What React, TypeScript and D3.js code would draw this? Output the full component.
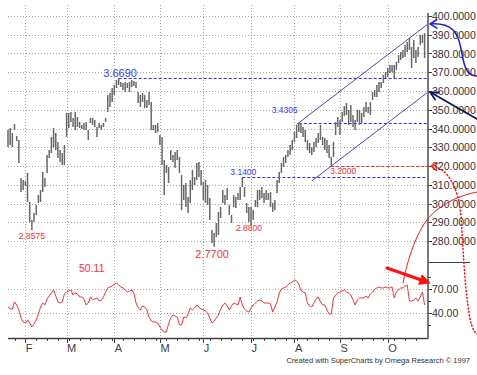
import React from 'react';
import * as d3 from 'd3';

const W = 477;
const H = 375;

// first bar of each month (bar index) and its letter
const monthStart = [8, 27, 49, 70, 90, 112, 132, 153, 175];
const monthLabel = ['F', 'M', 'A', 'M', 'J', 'J', 'A', 'S', 'O'];

// daily highs / lows, late Jan .. late Oct
const hi = [
  339.2, 340.3, 337.6, 342.4, 336.0, 333.9, 313.6, 312.5, 312.0, 316.3,
  300.8, 291.2, 294.9, 299.2, 304.5, 307.2, 316.8, 313.6, 325.9, 328.5,
  335.5, 340.3, 337.6, 332.8, 328.5, 326.9, 331.2, 348.3, 348.3, 348.8,
  345.6, 348.8, 346.1, 343.5, 341.9, 342.9, 343.5, 339.2, 345.6, 345.6,
  344.5, 340.8, 342.9, 341.9, 342.9, 345.6, 357.9, 358.9, 361.6, 363.2,
  365.9, 366.9, 364.8, 364.3, 364.8, 364.3, 364.8, 365.9, 365.4, 364.8,
  359.5, 357.9, 358.9, 357.9, 355.2, 359.5, 354.1, 341.9, 341.9, 342.9,
  336.5, 335.5, 323.2, 320.5, 319.5, 328.5, 325.9, 327.5, 328.5, 324.8,
  315.2, 309.9, 310.9, 303.5, 312.5, 317.9, 314.1, 321.6, 322.1, 317.9,
  311.5, 312.5, 309.9, 302.9, 285.9, 284.3, 289.6, 295.5, 298.1, 307.2,
  304.5, 308.3, 299.2, 293.9, 304.5, 303.5, 305.6, 308.8, 314.0, 308.8,
  300.3, 298.1, 298.1, 296.5, 301.9, 307.2, 307.2, 308.8, 305.6, 307.2,
  305.6, 306.1, 300.3, 301.9, 312.5, 316.8, 321.6, 324.8, 325.9, 328.5,
  331.2, 333.9, 338.1, 341.9, 343.05, 342.9, 340.8, 339.2, 333.9, 332.3,
  330.1, 332.8, 334.9, 337.6, 341.9, 335.5, 334.9, 333.9, 331.2, 324.8,
  332.8, 343.5, 346.1, 344.5, 348.8, 352.0, 353.6, 349.9, 352.5, 347.2,
  344.5, 349.9, 349.9, 348.3, 351.5, 354.1, 351.5, 354.1, 359.5, 360.5,
  363.2, 364.8, 364.8, 368.5, 370.1, 372.3, 373.9, 373.9, 373.9, 375.5,
  379.2, 380.8, 381.9, 384.5, 386.1, 388.3, 383.5, 387.2, 381.9, 383.5,
  389.9, 389.9, 390.9,
];
const lo = [
  330.1, 331.2, 330.1, 339.2, 333.3, 321.6, 306.1, 307.2, 309.3, 300.8,
  290.1, 285.75, 290.1, 293.9, 300.3, 300.8, 306.1, 308.8, 316.3, 324.3,
  326.9, 330.1, 328.5, 324.3, 322.1, 320.5, 320.5, 335.5, 340.3, 343.5,
  340.8, 339.2, 340.8, 340.3, 339.7, 339.2, 339.2, 333.9, 342.9, 341.9,
  340.8, 335.5, 340.3, 339.2, 340.8, 343.5, 348.8, 351.5, 354.1, 357.9,
  361.6, 363.2, 362.1, 360.5, 359.5, 361.6, 359.5, 362.1, 362.7, 361.6,
  353.6, 351.5, 354.1, 350.9, 350.9, 352.5, 339.2, 339.2, 337.6, 338.1,
  331.2, 320.5, 304.5, 316.3, 310.9, 323.2, 322.1, 318.9, 323.2, 316.3,
  296.5, 301.9, 298.1, 294.9, 300.3, 307.2, 309.9, 312.5, 314.1, 309.9,
  301.9, 300.3, 299.2, 291.2, 278.9, 277.0, 282.1, 283.2, 292.3, 300.3,
  299.2, 301.9, 293.9, 289.6, 298.1, 297.6, 301.9, 301.9, 308.8, 303.5,
  294.9, 290.1, 288.0, 291.2, 298.1, 298.1, 301.9, 302.9, 300.3, 301.9,
  301.9, 298.1, 295.5, 296.5, 305.6, 310.9, 316.3, 319.5, 321.6, 324.8,
  325.9, 328.5, 332.8, 334.9, 338.1, 337.6, 335.5, 332.8, 328.5, 326.9,
  325.9, 327.5, 330.1, 332.3, 333.9, 331.2, 328.5, 326.9, 324.3, 320.0,
  324.8, 336.5, 340.8, 336.5, 343.5, 346.7, 347.2, 341.9, 343.5, 340.8,
  339.2, 343.5, 341.9, 342.9, 346.1, 348.8, 348.3, 347.2, 355.2, 356.8,
  356.8, 359.5, 361.6, 364.3, 366.9, 367.5, 369.6, 370.1, 366.9, 371.2,
  374.9, 376.5, 377.6, 378.1, 380.8, 381.9, 372.3, 377.6, 374.9, 378.1,
  384.5, 385.6, 377.6,
];

// oscillator, one value per bar
const rsi = [
  47.5, 45.0, 45.0, 53.8, 50.0, 43.8, 33.8, 28.8, 27.5, 31.3,
  27.5, 22.5, 26.3, 31.3, 38.8, 47.5, 52.5, 50.0, 57.5, 61.3,
  65.0, 68.8, 61.3, 53.8, 52.5, 53.8, 63.8, 66.3, 67.5, 68.8,
  62.5, 65.0, 63.8, 60.0, 60.0, 57.5, 50.0, 52.5, 60.0, 56.3,
  57.5, 58.8, 55.0, 56.3, 60.0, 66.3, 71.3, 72.5, 73.8, 76.3,
  77.5, 75.0, 72.5, 71.3, 68.8, 66.3, 67.5, 68.8, 65.0, 52.5,
  46.3, 43.8, 48.8, 47.5, 43.8, 35.0, 30.0, 28.8, 28.8, 27.5,
  22.5, 18.8, 16.3, 16.3, 26.3, 33.8, 37.5, 36.3, 35.0, 25.0,
  25.0, 35.0, 33.8, 38.8, 46.3, 43.8, 46.3, 50.0, 47.5, 45.0,
  43.8, 42.5, 40.0, 33.8, 27.5, 30.0, 33.8, 37.5, 45.0, 50.0,
  52.5, 48.8, 43.8, 48.8, 52.5, 51.3, 50.0, 60.0, 50.0, 45.0,
  42.5, 41.3, 46.3, 50.0, 52.5, 55.0, 56.3, 55.0, 52.5, 52.5,
  52.5, 51.3, 41.3, 47.5, 53.8, 65.0, 70.0, 71.3, 72.5, 75.0,
  77.5, 78.8, 81.3, 80.0, 76.3, 68.8, 66.3, 65.0, 52.5, 48.8,
  47.5, 52.5, 57.5, 60.0, 53.8, 50.0, 50.0, 43.8, 38.8, 38.8,
  58.8, 62.5, 65.0, 66.3, 67.5, 68.8, 66.3, 65.0, 62.5, 56.3,
  50.0, 56.3, 58.8, 58.8, 58.8, 61.3, 58.8, 63.8, 66.3, 70.0,
  71.3, 72.5, 71.3, 71.3, 72.5, 71.3, 71.3, 72.5, 58.8, 66.3,
  68.8, 71.3, 71.3, 73.8, 75.0, 55.0, 55.0, 56.3, 58.8, 55.0,
  60.0, 66.3, 50.11,
];

// marked turning points: bar index, price, label placement
const peaks = [
  { i: 51, p: 366.9, big: true, dx: 1.5, dy: -1, anchor: 'middle' },
  { i: 134, p: 343.05, big: false, dx: -1, dy: -10, anchor: 'end' },
  { i: 108, p: 314.0, big: false, dx: 1, dy: -2, anchor: 'middle' },
];
const troughs = [
  { i: 11, p: 285.75, big: false, dx: 0, dy: 9, anchor: 'middle' },
  { i: 95, p: 277.0, big: true, dx: -2, dy: 11.5, anchor: 'middle' },
  { i: 112, p: 288.0, big: false, dx: -2, dy: 5, anchor: 'middle' },
  { i: 149, p: 320.0, big: false, dx: -1, dy: 8, anchor: 'start' },
];
// levels carried right to the axis
const levels = [
  { i: 51, p: 366.9, color: '#2a2aff' },
  { i: 134, p: 343.05, color: '#2a2aff' },
  { i: 108, p: 314.0, color: '#2a2aff' },
  { i: 149, p: 320.0, color: '#ff2020' },
];
// rising channel
const channel = { upperFrom: 133, upperAt: [134, 343.05], lowerFrom: 140, lowerAt: [149, 320.0], slope: 0.885 };

const font = '"Liberation Sans", Arial, sans-serif';
const fmt4 = (v: number) => (v / 100).toFixed(4);

function arrowHead(tx: number, ty: number, fx: number, fy: number, len: number, spread: number) {
  const a = Math.atan2(fy - ty, fx - tx);
  const p1 = [tx + len * Math.cos(a + spread), ty + len * Math.sin(a + spread)];
  const p2 = [tx + len * Math.cos(a - spread), ty + len * Math.sin(a - spread)];
  return { open: `M${p1[0]},${p1[1]} L${tx},${ty} L${p2[0]},${p2[1]}`, closed: `M${p1[0]},${p1[1]} L${tx},${ty} L${p2[0]},${p2[1]} Z` };
}

export default function App() {
  const left = 8;
  const axisX = 428;
  const bottom = 338;
  const x = d3.scaleLinear().domain([0, hi.length - 1]).range([left, 424.6]);
  const y = d3.scaleLinear().domain([280, 400]).range([241, 16]);
  const yr = d3.scaleLinear().domain([40, 70]).range([313, 289]);

  const rsiLine = d3.line<number>().x((_, i) => x(i)).y((d) => yr(d))(rsi) ?? '';

  const iAxis = x.invert(axisX);
  const upper = (i: number) => channel.upperAt[1] + channel.slope * (i - channel.upperAt[0]);
  const lower = (i: number) => channel.lowerAt[1] + channel.slope * (i - channel.lowerAt[0]);

  const minorTicks = d3.range(3, hi.length, 5);
  const priceTicks = y.ticks(12);
  const rsiTicks = [40, 70];
  const rsiMinor = [25, 55, 85];

  // hand-drawn marks
  const uy = y(upper(iAxis));
  const ly = y(lower(iAxis));
  const ry = y(320);
  const blueHead = arrowHead(axisX + 2, uy, axisX + 12, uy, 8, 0.55);
  const navyHead = arrowHead(axisX + 2, ly, W, ly + 27, 9, 0.45);
  const redDotHead = arrowHead(axisX + 3, ry, axisX + 12, ry + 1, 7, 0.6);
  const rTip = [axisX + 2, yr(70) - 6];
  const rTail = [axisX - 41, yr(70) - 21];
  const thickHead = arrowHead(rTip[0], rTip[1], rTail[0], rTail[1], 11, 0.45);

  return (
    <svg width={W} height={H} style={{ position: 'absolute', left: 0, top: 0, background: '#fff' }} fontFamily={font}>
      <rect width={W} height={H} fill="#fff" />
      {/* grid */}
      <g stroke="#a8a8a8" strokeWidth={1} strokeDasharray="1 2">
        {monthStart.map((m) => (
          <line key={'v' + m} x1={Math.round(x(m)) + 0.5} x2={Math.round(x(m)) + 0.5} y1={5} y2={bottom} />
        ))}
        {priceTicks.map((t) => (
          <line key={'h' + t} x1={left} x2={axisX} y1={Math.round(y(t)) + 0.5} y2={Math.round(y(t)) + 0.5} />
        ))}
        {rsiTicks.map((t) => (
          <line key={'r' + t} x1={left} x2={axisX} y1={Math.round(yr(t)) + 0.5} y2={Math.round(yr(t)) + 0.5} />
        ))}
      </g>

      {/* level lines */}
      {levels.map((l) => (
        <line key={'l' + l.p} x1={x(l.i)} x2={axisX} y1={Math.round(y(l.p)) + 0.5} y2={Math.round(y(l.p)) + 0.5}
          stroke={l.color} strokeWidth={1} strokeDasharray="3 2" />
      ))}

      {/* channel */}
      <g stroke="#4a4ac0" strokeWidth={1}>
        <line x1={x(channel.upperFrom)} y1={y(upper(channel.upperFrom))} x2={axisX} y2={uy} />
        <line x1={x(channel.lowerFrom)} y1={y(lower(channel.lowerFrom))} x2={axisX} y2={ly} />
      </g>

      {/* price bars */}
      <g stroke="#686868" strokeWidth={1.5}>
        {hi.map((h, i) => (
          <line key={i} x1={x(i)} x2={x(i)} y1={y(h)} y2={y(lo[i])} />
        ))}
      </g>

      {/* oscillator */}
      <path d={rsiLine} fill="none" stroke="#ff3333" strokeWidth={1} />

      {/* labels at turning points */}
      {peaks.map((d) => (
        <text key={'p' + d.i} x={x(d.i) + d.dx} y={y(d.p) + d.dy} fill="#3a3aff" fontSize={d.big ? 11 : 8.5} textAnchor={d.anchor}>
          {fmt4(d.p)}
        </text>
      ))}
      {troughs.map((d) => (
        <text key={'t' + d.i} x={x(d.i) + d.dx} y={y(d.p) + d.dy} fill="#ff3030" fontSize={d.big ? 11 : 8.5} textAnchor={d.anchor}>
          {fmt4(d.p)}
        </text>
      ))}
      <text x={79} y={272} fill="#ff3030" fontSize={10.5}>{d3.format('.2f')(rsi[rsi.length - 1])}</text>

      {/* axes */}
      <line x1={left} x2={axisX} y1={bottom + 0.5} y2={bottom + 0.5} stroke="#404040" strokeWidth={1.5} />
      <g stroke="#404040" strokeWidth={1}>
        {minorTicks.map((t) => (
          <line key={'m' + t} x1={Math.round(x(t)) + 0.5} x2={Math.round(x(t)) + 0.5} y1={bottom} y2={bottom + 3} />
        ))}
        {monthStart.map((m) => (
          <line key={'M' + m} x1={Math.round(x(m)) + 0.5} x2={Math.round(x(m)) + 0.5} y1={bottom} y2={bottom + 5} />
        ))}
      </g>
      {monthStart.map((m, k) => (
        <text key={'ml' + k} x={x(m) + 0.5} y={352} fontSize={11} fill="#3c3c50">{monthLabel[k]}</text>
      ))}
      <line x1={axisX} x2={axisX} y1={13} y2={bottom + 1} stroke="#7a7a7a" strokeWidth={2} />
      <line x1={axisX} x2={470} y1={262.5} y2={262.5} stroke="#404040" strokeWidth={1} />
      <g stroke="#404040" strokeWidth={1}>
        {priceTicks.map((t) => (
          <line key={'pt' + t} x1={axisX} x2={axisX + 4} y1={Math.round(y(t)) + 0.5} y2={Math.round(y(t)) + 0.5} />
        ))}
        {rsiTicks.map((t) => (
          <line key={'rt' + t} x1={axisX} x2={axisX + 4} y1={Math.round(yr(t)) + 0.5} y2={Math.round(yr(t)) + 0.5} />
        ))}
        {rsiMinor.map((t) => (
          <line key={'rm' + t} x1={axisX} x2={axisX + 3} y1={Math.round(yr(t)) + 0.5} y2={Math.round(yr(t)) + 0.5} />
        ))}
      </g>
      {priceTicks.map((t) => (
        <text key={'pl' + t} x={axisX + 4} y={y(t) + 4} fontSize={10.5} fill="#303040">{d3.format('.4f')(t)}</text>
      ))}
      {rsiTicks.map((t) => (
        <text key={'rl' + t} x={axisX + 4} y={yr(t) + 4} fontSize={10.5} fill="#303040">{d3.format('.2f')(t)}</text>
      ))}

      {/* hand-drawn notes */}
      <g fill="none" strokeLinecap="round" strokeLinejoin="round">
        <path d={`M${axisX + 3},${uy} C${axisX + 24},${uy - 1} ${axisX + 30},${uy + 8} ${axisX + 33},${uy + 25} S${axisX + 38},${uy + 52} ${W},${uy + 52}`}
          stroke="#1c1cc8" strokeWidth={1.5} />
        <path d={blueHead.open} stroke="#1c1cc8" strokeWidth={1.5} />
        <line x1={W} y1={ly + 27} x2={axisX + 2} y2={ly} stroke="#0c1a5c" strokeWidth={1.8} />
        <path d={navyHead.open} stroke="#0c1a5c" strokeWidth={1.8} />
        <path d={`M${axisX + 4},${ry} C${axisX + 20},${ry + 3} ${axisX + 30},${ry + 20} ${axisX + 33},${ry + 50} C${axisX + 35},${ry + 80} ${axisX + 36},${ry + 110} ${axisX + 40},${ry + 140} C${axisX + 42},${ry + 157} ${axisX + 45},${ry + 165} ${W},${ry + 168}`}
          stroke="#ff1010" strokeWidth={1.5} strokeDasharray="1 2.5" />
        <path d={redDotHead.open} stroke="#ff1010" strokeWidth={1.3} />
        <path d={`M${axisX - 25},${yr(70) - 6} C${axisX - 21},${yr(70) - 27} ${axisX - 14},${yr(70) - 49} ${axisX - 4},${yr(70) - 65} S${axisX + 27},${yr(70) - 93} ${W},${yr(70) - 97}`}
          stroke="#ff1a1a" strokeWidth={1} />
        <line x1={rTail[0]} y1={rTail[1]} x2={rTip[0] - 6} y2={rTip[1] - 2} stroke="#ff1010" strokeWidth={3} />
        <path d={thickHead.closed} fill="#ff1010" stroke="#ff1010" strokeWidth={1} />
      </g>

      <text x={470} y={363} fontSize={7.5} fill="#303030" textAnchor="end">
        Created with SuperCharts by Omega Research © 1997
      </text>
    </svg>
  );
}
